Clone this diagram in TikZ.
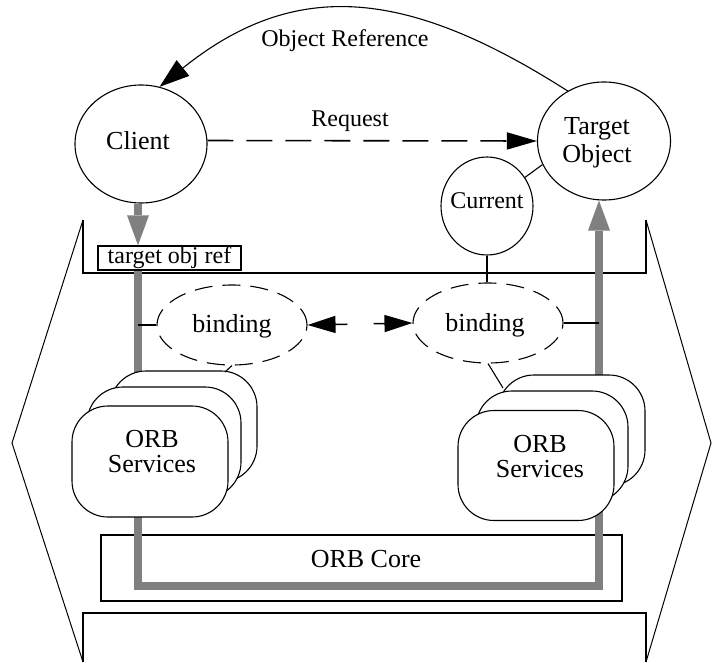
\documentclass[tikz,border=0pt]{standalone}
\usepackage{fontspec}
\setmainfont{Liberation Serif}
\usetikzlibrary{arrows.meta,shapes.geometric,calc}
\begin{document}
\begin{tikzpicture}[x=1pt,y=-1pt,
  lbl/.style={font=\fontsize{26}{26}\selectfont, inner sep=0pt},
  slbl/.style={font=\fontsize{24}{24}\selectfont, inner sep=0pt},
  oval/.style={draw, ellipse, line width=1.1pt, inner sep=0pt},
  bind/.style={draw, ellipse, line width=1.1pt, dash pattern=on 18pt off 10pt, inner sep=0pt, minimum width=150pt, minimum height=80pt},
  svc/.style={draw, fill=white, line width=1.1pt, rounded corners=36pt, minimum height=111pt, inner sep=0pt},
  frame/.style={line width=1.6pt},
  thinline/.style={line width=1pt},
  conn/.style={line width=1.1pt},
  greyflow/.style={draw=gray, line width=8pt, line join=miter},
  greytip/.style={-{Triangle[length=30pt,width=22pt,line width=0pt]}},
  ]
\useasboundingbox (0,0) rectangle (712,663);
% frame
\draw[frame] (83,220) -- (83,273) -- (646,273) -- (646,220);
\draw[frame] (83,662) -- (83,613) -- (646,613) -- (646,662);
\draw[thinline] (83,220) -- (12,443) -- (83,662);
\draw[thinline] (646,220) -- (711,443) -- (646,662);
% ORB core
\node[draw, line width=1.6pt, minimum width=521pt, minimum height=66pt, inner sep=0pt] (core) at (361.5,568) {};
\node[lbl, anchor=base] (coret) at (366,567) {ORB Core};
% top nodes
\node[oval, minimum width=132pt, minimum height=118pt] (cl) at (141,144) {};
\node[lbl, anchor=base] (clt) at (138,150) {Client};
\node[oval, minimum width=133pt, minimum height=118pt] (tgt) at (604,141) {};
\node[lbl, align=center, font=\fontsize{26}{28}\selectfont] (tgtt) at (597,143) {Target\\Object};
\node[oval, minimum width=92pt, minimum height=98pt] (cur) at (487,206) {};
\node[slbl, anchor=base] (curt) at (487,208) {Current};
% grey flow
\coordinate (lgx) at (138,586);
\coordinate (rgx) at (599,586);
\node[draw, line width=1.4pt, minimum width=143pt, minimum height=24pt, inner sep=0pt] (tor) at (169.5,258) {};
\draw[greyflow, greytip] (cl.south -| lgx) -- (tor.north -| lgx);
\draw[greyflow, greytip] (tor.south -| lgx) -- (lgx) -- (rgx) -- (tgt.south -| rgx);
\node[draw, fill=white, line width=1.4pt, minimum width=143pt, minimum height=24pt, inner sep=0pt, slbl] (tor2) at (tor) {target obj ref};
% ORB services stacks
\node[svc, minimum width=147pt] (lsb) at (183.5,426.5) {};
\node[svc, minimum width=154pt] (lsm) at (164,442.5) {};
\node[svc, minimum width=156pt] (lsf) at (150,461.5) {};
\node[lbl, align=center, font=\fontsize{26}{25}\selectfont] (lst) at (152,452) {ORB\\Services};
\node[svc, minimum width=147pt] (rsb) at (571.5,430.5) {};
\node[svc, minimum width=152pt] (rsm) at (552,446.5) {};
\node[svc, minimum width=156pt, minimum height=110pt] (rsf) at (536,465.5) {};
\node[lbl, align=center, font=\fontsize{26}{25}\selectfont] (rst) at (540,457) {ORB\\Services};
% bindings
\node[bind] (bindL) at (232,325) {};
\node[lbl, anchor=base] (bindLt) at (232,332) {binding};
\node[bind] (bindR) at (488,323) {};
\node[lbl, anchor=base] (bindRt) at (485,331) {binding};
% connectors
\draw[conn, -{Triangle[length=30pt,width=20pt]}] (tgt.126) .. controls (408,-11) and (296,-23) .. (cl.72);
\node[slbl, anchor=base] (ort) at (345,47) {Object Reference};
\draw[line width=1.6pt, dash pattern=on 26pt off 13pt, -{Triangle[length=30pt,width=17pt]}] (cl.3) -- (tgt.west);
\node[slbl, anchor=base] (reqt) at (350,127) {Request};
\draw[conn] (cur.37) -- (tgt.201);
\draw[line width=1.6pt] (cur.south) -- (cur.south |- bindR.north);
\draw[conn] (bindL.west) -- (bindL.west -| lgx);
\draw[conn] (bindR.east) -- (bindR.east -| rgx);
\coordinate (dl) at ($(bindL.east)!0.38!(bindR.west)$);
\coordinate (dr) at ($(bindL.east)!0.63!(bindR.west)$);
\draw[line width=1.5pt, -{Triangle[length=28pt,width=17pt]}] (dl) -- (bindL.east);
\draw[line width=1.5pt, -{Triangle[length=28pt,width=17pt]}] (dr) -- (bindR.west);
\coordinate (lsa) at (225,372);
\coordinate (rsa) at (503,388);
\draw[conn] (bindL.south) -- (lsa);
\draw[conn] (bindR.south) -- (rsa);
\end{tikzpicture}
\end{document}
